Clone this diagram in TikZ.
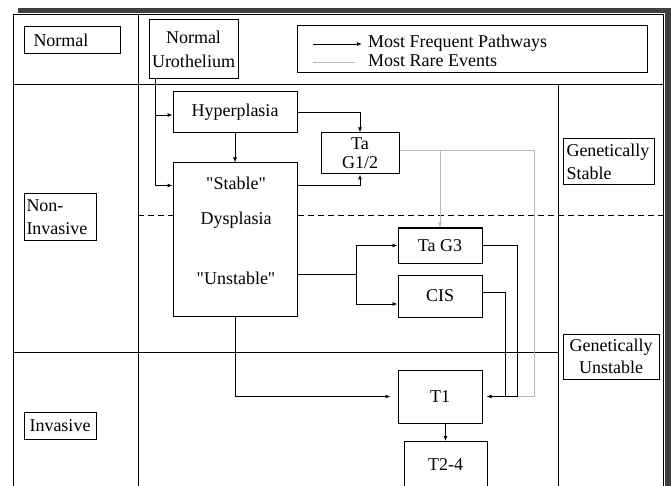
\documentclass[tikz,border=0pt]{standalone}
\usepackage{fontspec}
\setmainfont{Liberation Serif}
\usetikzlibrary{arrows.meta,calc}
\begin{document}
\begin{tikzpicture}[x=1pt,y=-1pt,
  txt/.style={font=\fontsize{18}{19}\selectfont, inner sep=0pt},
  box/.style={draw, line width=1pt, fill=white, inner sep=0pt, align=center, font=\fontsize{18}{19}\selectfont},
  grid/.style={line width=1pt},
  conn/.style={line width=0.9pt},
  arr/.style={conn, -{Latex[length=5pt,width=4pt]}},
  rare/.style={line width=0.8pt, gray!55},
  rarearr/.style={rare, -{Latex[length=5pt,width=4pt]}}]
\useasboundingbox (0,0) rectangle (671,486);
\clip (0,0) rectangle (671,486);
\fill[white] (0,0) rectangle (671,486);
% frame and shadow
\fill[black!75] (18,8) rectangle (671,13);
\fill[black!75] (665,8) rectangle (671,486);
\draw[grid] (13,486) -- (13,15) -- (663,15) -- (663,486);
% grid lines
\draw[grid] (138,15) -- (138,486);
\draw[grid] (13,85) -- (663,85);
\draw[grid] (13,352) -- (558,352);
\draw[grid] (558,85) -- (558,486);
\draw[line width=1pt, dash pattern=on 6pt off 4pt] (138,216) -- (663,216);
% left labels
\node[box, anchor=north west, minimum height=27pt, text width=78pt, inner xsep=9pt, align=left] (normal) at (24,26) {Normal};
\node[box, anchor=north west, minimum height=47pt, text width=68pt, inner xsep=2pt, align=left, font=\fontsize{18}{23}\selectfont] (noninv) at (24,193) {Non-\\Invasive};
\node[box, minimum width=72pt, minimum height=27pt] (inv) at (60,425.5) {Invasive};
% right labels
\node[box, anchor=north west, minimum height=46pt, text width=85pt, inner xsep=3pt, align=left, font=\fontsize{18}{23}\selectfont] (gstable) at (563,138) {Genetically\\Stable};
\node[box, minimum width=96pt, minimum height=45pt, font=\fontsize{18}{22}\selectfont] (gunstable) at (611,356.5) {Genetically\\Unstable};
% legend
\node[box, minimum width=350pt, minimum height=47pt] (legend) at (472,49.5) {};
\coordinate (la1) at (313,44);
\coordinate (la2) at (362,44);
\coordinate (lr1) at (313,62);
\coordinate (lr2) at (355,62);
\draw[arr] (la1) -- (la2);
\draw[rare] (lr1) -- (lr2);
\node[txt, anchor=west] (lfreq) at (368,43) {Most Frequent Pathways};
\node[txt, anchor=west] (lrare) at (368,61) {Most Rare Events};
% main nodes
\node[box, minimum width=89pt, minimum height=59pt, font=\fontsize{18}{24}\selectfont] (nu) at (193.5,49.5) {Normal\\Urothelium};
\node[box, minimum width=124pt, minimum height=41pt] (hyper) at (235,112.5) {Hyperplasia};
\node[box, minimum width=124pt, minimum height=153pt] (dys) at (235,239.5) {};
\node[txt] (stable) at (236,183) {\textquotedbl Stable\textquotedbl};
\node[txt] (dyst) at (236,220) {Dysplasia};
\node[txt] (unstable) at (236,278) {\textquotedbl Unstable\textquotedbl};
\node[box, minimum width=78pt, minimum height=41pt] (ta12) at (360,153.5) {Ta\\G1/2};
\node[box, minimum width=84pt, minimum height=35pt] (ta3) at (440,245.5) {Ta G3};
\node[box, minimum width=84pt, minimum height=42pt] (cis) at (440,296) {CIS};
\node[box, minimum width=84pt, minimum height=53pt] (t1) at (440,396.5) {T1};
\node[box, anchor=north, minimum width=83pt, minimum height=50pt, text depth=0pt] (t24) at (445.5,441) {};
\node[txt] (t24t) at (445.5,465) {T2-4};
% connectors
\coordinate (nuL) at (155,79);
\draw[arr] (nuL) |- ([yshift=-2.5pt]hyper.west);
\draw[arr] (nuL) |- ($(dys.north west)+(0,23)$);
\draw[arr] (hyper.south) -- (dys.north);
\draw[arr] (hyper.east) -| (ta12.north);
\draw[arr] ($(dys.north east)+(0,23)$) -| (ta12.south);
\coordinate (br) at (356,274);
\draw[conn] (dys.east |- br) -- (br);
\draw[arr] (br) |- (ta3.west);
\draw[arr] (br) |- ([yshift=-8pt]cis.west);
% rare events
\coordinate (rr) at (534,396.5);
\draw[rare] ([yshift=3.5pt]ta12.east) -| (rr) -- (517,396.5);
\draw[rarearr] (ta3.north |- {(0,150)}) -- (ta3.north);
% to T1
\coordinate (j1) at (517,396.5);
\coordinate (j2) at (505,396.5);
\draw[conn] (ta3.east) -| (j1);
\draw[conn] ([yshift=4pt]cis.east) -| (j2);
\draw[arr] (j1) -- ([xshift=4pt]t1.east);
\draw[arr] (dys.south) |- ([xshift=-7pt]t1.west);
\draw[arr] (t24.north |- t1.south) -- (t24.north);
\end{tikzpicture}
\end{document}
